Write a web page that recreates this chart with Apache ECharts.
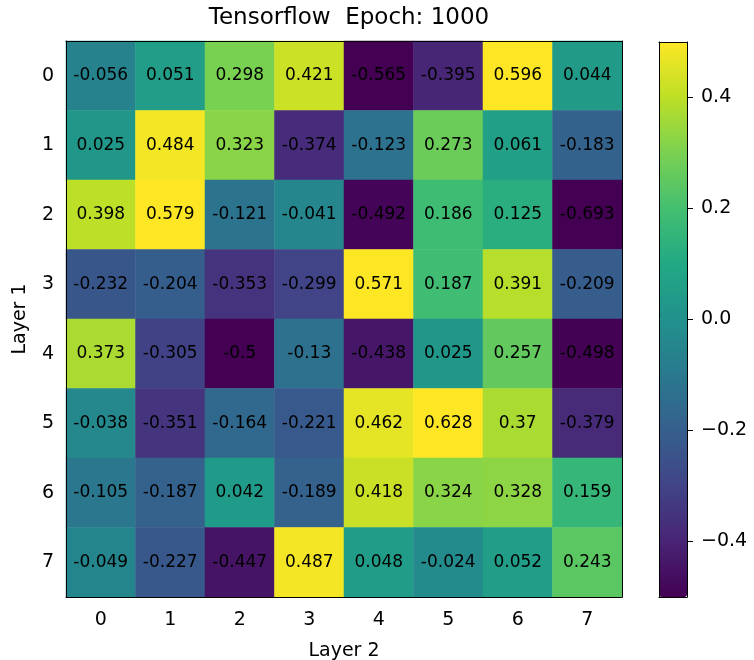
<!DOCTYPE html>
<html>
<head>
<meta charset="utf-8">
<script src="https://cdn.jsdelivr.net/npm/echarts@6/dist/echarts.min.js"></script>
<style>
  html, body { margin: 0; padding: 0; background: #fff; }
  #chart { width: 754px; height: 660px; }
</style>
</head>
<body>
<div id="chart"></div>
<script>
// tick labels of both axes
const layer2Labels = ['0', '1', '2', '3', '4', '5', '6', '7']
const layer1Labels = ['0', '1', '2', '3', '4', '5', '6', '7']

// weights, one array per Layer 1 row
const row0 = [-0.056, 0.051, 0.298, 0.421, -0.565, -0.395, 0.596, 0.044]
const row1 = [0.025, 0.484, 0.323, -0.374, -0.123, 0.273, 0.061, -0.183]
const row2 = [0.398, 0.579, -0.121, -0.041, -0.492, 0.186, 0.125, -0.693]
const row3 = [-0.232, -0.204, -0.353, -0.299, 0.571, 0.187, 0.391, -0.209]
const row4 = [0.373, -0.305, -0.5, -0.13, -0.438, 0.025, 0.257, -0.498]
const row5 = [-0.038, -0.351, -0.164, -0.221, 0.462, 0.628, 0.37, -0.379]
const row6 = [-0.105, -0.187, 0.042, -0.189, 0.418, 0.324, 0.328, 0.159]
const row7 = [-0.049, -0.227, -0.447, 0.487, 0.048, -0.024, 0.052, 0.243]
const rows = [row0, row1, row2, row3, row4, row5, row6, row7]

const colorbarTicks = [-0.4, -0.2, 0, 0.2, 0.4]
const colorMin = -0.5
const colorMax = 0.5

const viridis = ['#440154', '#482475', '#414487', '#355f8d', '#2a788e', '#21918c',
  '#22a884', '#44bf70', '#7ad151', '#bddf26', '#fde725']

const FONT = 'DejaVu Sans'

// [x, y, clamped value for colour, raw value for text]
const cells = []
rows.forEach((row, y) => {
  row.forEach((v, x) => {
    cells.push([x, y, Math.max(colorMin, Math.min(colorMax, v)), v])
  })
})

const chart = echarts.init(document.getElementById('chart'))

// plain frame lines (spines)
const edgeAxis = {
  show: true,
  axisLine: { show: true, onZero: false, lineStyle: { color: '#000', width: 1 } },
  axisTick: { show: false },
  axisLabel: { show: false },
  splitLine: { show: false },
  z: 5
}

const option = {
  animation: false,
  backgroundColor: '#fff',
  title: {
    text: 'Tensorflow  Epoch: 1000',
    left: 344,
    top: 2,
    textAlign: 'center',
    textStyle: { fontFamily: FONT, fontSize: 23, fontWeight: 'normal', color: '#000' }
  },
  grid: [
    { left: 66, top: 41, width: 556, height: 556, outerBoundsMode: 'none', containLabel: false },
    { left: 659, top: 42, width: 28, height: 555, outerBoundsMode: 'none', containLabel: false }
  ],
  xAxis: [
    {
      type: 'category',
      gridIndex: 0,
      data: layer2Labels,
      position: 'bottom',
      name: 'Layer 2',
      nameLocation: 'middle',
      nameGap: 45,
      nameTextStyle: { fontFamily: FONT, fontSize: 19, color: '#000' },
      axisLine: { onZero: false, lineStyle: { color: '#000', width: 1 } },
      axisTick: { alignWithLabel: true, length: 6, lineStyle: { color: '#000' } },
      axisLabel: { fontFamily: FONT, fontSize: 19, color: '#000', margin: 14 },
      splitLine: { show: false },
      z: 5
    },
    Object.assign({ type: 'category', gridIndex: 0, data: layer2Labels, position: 'top' }, edgeAxis),
    Object.assign({ type: 'value', gridIndex: 1, min: 0, max: 1, position: 'bottom' }, edgeAxis),
    Object.assign({ type: 'value', gridIndex: 1, min: 0, max: 1, position: 'top' }, edgeAxis)
  ],
  yAxis: [
    {
      type: 'category',
      gridIndex: 0,
      data: layer1Labels,
      inverse: true,
      position: 'left',
      name: 'Layer 1',
      nameLocation: 'middle',
      nameGap: 36,
      nameTextStyle: { fontFamily: FONT, fontSize: 19, color: '#000' },
      axisLine: { onZero: false, lineStyle: { color: '#000', width: 1 } },
      axisTick: { alignWithLabel: true, length: 6, lineStyle: { color: '#000' } },
      axisLabel: { fontFamily: FONT, fontSize: 19, color: '#000', margin: 12 },
      splitLine: { show: false },
      z: 5
    },
    Object.assign({ type: 'category', gridIndex: 0, data: layer1Labels, inverse: true, position: 'right' }, edgeAxis),
    {
      type: 'value',
      gridIndex: 1,
      min: colorMin,
      max: colorMax,
      position: 'right',
      axisLine: { show: true, onZero: false, lineStyle: { color: '#000', width: 1 } },
      axisTick: { show: true, length: 6, customValues: colorbarTicks, lineStyle: { color: '#000' } },
      axisLabel: {
        show: true,
        customValues: colorbarTicks,
        fontFamily: FONT,
        fontSize: 19,
        color: '#000',
        margin: 14,
        formatter: v => v.toFixed(1).replace('-', '\u2212')
      },
      splitLine: { show: false },
      z: 5
    },
    Object.assign({ type: 'value', gridIndex: 1, min: colorMin, max: colorMax, position: 'left' }, edgeAxis)
  ],
  visualMap: {
    type: 'continuous',
    min: colorMin,
    max: colorMax,
    dimension: 2,
    seriesIndex: 0,
    calculable: false,
    hoverLink: false,
    orient: 'vertical',
    left: 659,
    top: 42,
    padding: 0,
    itemWidth: 28,
    itemHeight: 555,
    text: null,
    showLabel: false,
    inRange: { color: viridis }
  },
  series: [{
    type: 'heatmap',
    xAxisIndex: 0,
    yAxisIndex: 0,
    data: cells,
    label: {
      show: true,
      fontFamily: FONT,
      fontSize: 17,
      color: '#000',
      formatter: p => String(p.data[3])
    },
    itemStyle: { borderWidth: 0 },
    emphasis: { disabled: true }
  }]
}

chart.setOption(option)
</script>
</body>
</html>
